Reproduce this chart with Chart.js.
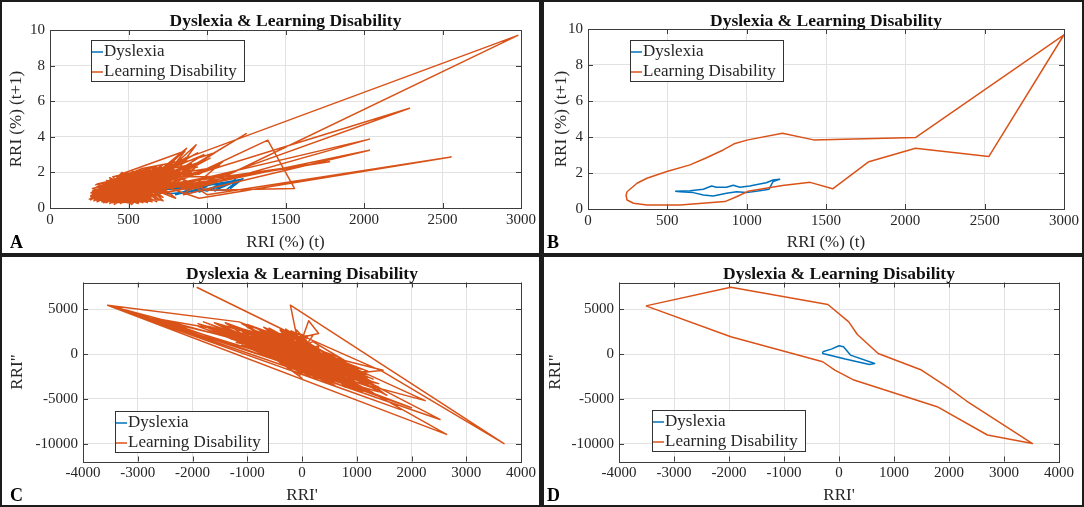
<!DOCTYPE html>
<html><head><meta charset="utf-8">
<script src="https://cdn.jsdelivr.net/npm/chart.js@4.4.1/dist/chart.umd.min.js"></script>
<style>
html,body{margin:0;padding:0;background:#1c1c1c;width:1084px;height:507px;overflow:hidden}
.panel{position:absolute;background:#fff}
canvas{display:block}
</style></head><body>
<div class="panel" style="left:2px;top:2px;width:537px;height:251px"><canvas id="cA" width="537" height="251"></canvas></div>
<div class="panel" style="left:544px;top:2px;width:538px;height:251px"><canvas id="cB" width="538" height="251"></canvas></div>
<div class="panel" style="left:2px;top:257px;width:537px;height:248px"><canvas id="cC" width="537" height="248"></canvas></div>
<div class="panel" style="left:544px;top:257px;width:538px;height:248px"><canvas id="cD" width="538" height="248"></canvas></div>
<script>
// ---------- tick labels ----------
const xTicksAB = [0, 500, 1000, 1500, 2000, 2500, 3000];
const yTicksAB = [0, 2, 4, 6, 8, 10];
const xTicksCD = [-4000, -3000, -2000, -1000, 0, 1000, 2000, 3000, 4000];
const yTicksCD = [-10000, -5000, 0, 5000];
const seriesNames = ['Dyslexia', 'Learning Disability'];
const chartTitle = 'Dyslexia & Learning Disability';

// ---------- Panel A: RRI(t) vs RRI(t+1), raw ----------
const dysA = [[580,1.0],[700,1.05],[640,0.95],[820,1.3],[760,1.1],[900,1.2],[850,0.8],[1000,1.25],[950,0.9],[1100,1.35],
[1050,0.95],[1180,1.6],[1150,1.1],[1230,1.65],[1100,1.3],[900,0.85],[1000,1.2],[800,0.75],[950,1.25],[700,1.0],
[880,1.15],[1160,1.5],[1050,1.3],[1200,1.55],[1120,1.0],[980,1.0],[760,0.8],[620,1.0],[840,1.25],[1000,0.95],
[1140,1.4],[1080,1.1],[1220,1.62],[900,1.1],[600,1.0]];
const ldA = [[420,0.9],[300,0.7],[520,1.1],[340,0.5],[610,1.5],[420,1.3],[280,0.6],[560,1.3],[390,0.4],[700,1.6],
[450,1.2],[330,0.8],[640,1.4],[480,0.6],[260,0.55],[590,1.7],[370,1.0],[520,0.35],[730,1.8],[410,0.75],
[300,0.9],[560,1.05],[690,2.0],[350,0.6],[480,1.45],[620,0.9],[270,0.7],[540,1.6],[400,0.55],[760,1.5],
[931,3.55],[640,1.2],
[500,0.8],[320,1.05],[600,1.25],[440,0.3],[650,1.9],[380,1.2],[290,0.45],[580,0.7],[800,2.1],[460,1.0],
[350,0.85],[670,1.3],[510,1.8],[300,0.55],[620,1.55],[430,0.65],[720,1.2],[360,1.3],[550,0.5],[780,1.9],
[760,2.45],[2980,9.7],[990,1.25],
[410,1.1],[270,0.8],[500,1.25],[650,0.8],[390,1.5],[300,0.35],[580,1.45],[460,0.45],[840,2.3],[520,1.0],
[340,0.65],[620,1.75],[470,0.9],[280,0.9],[710,1.4],[400,0.85],[560,0.25],[660,1.6],[330,1.1],[500,0.55],
[900,1.8],[1387,3.81],[1557,1.1],[1000,1.0],
[750,2.0],[420,1.35],[600,1.0],[250,0.5],[540,1.2],[690,1.7],[380,0.5],[470,1.6],[630,0.6],[310,0.75],
[570,1.9],[880,2.4],[450,0.7],[350,1.35],[600,0.45],[740,1.65],[500,1.4],[290,0.65],[660,1.1],[430,1.5],
[820,1.6],[2290,5.6],[900,1.2],
[820,1.8],[540,0.85],[360,0.75],[700,2.2],[480,1.05],[260,0.7],[590,1.35],[420,0.4],[770,1.35],[510,1.55],
[320,0.5],[680,1.0],[450,1.9],[860,3.2],[700,1.4],[380,0.95],[530,0.3],[790,2.6],[560,1.5],[310,1.2],
[700,1.1],[2035,3.87],[880,1.0],
[600,2.1],[440,0.85],[280,0.5],[650,1.45],[500,0.65],[720,1.85],[350,1.0],[460,1.75],[620,0.5],[270,0.95],
[1050,3.1],[800,1.7],[480,1.3],[330,0.35],[570,1.15],[830,2.0],[400,1.6],[540,0.45],[700,1.55],[290,0.8],
[800,1.8],[1250,4.18],[880,2.2],
[610,1.05],[380,0.7],[520,1.95],[740,1.0],[430,0.55],[660,2.05],[300,1.0],[580,0.85],[900,2.0],[470,1.2],
[760,0.9],[2035,3.25],[850,0.75],
[1100,2.6],[950,1.9],[640,1.6],[360,0.55],[480,1.5],[1000,2.2],[700,1.2],[1150,2.0],[550,0.7],[800,1.3],
[850,1.3],[1780,2.6],[900,1.5],
[420,1.0],[620,1.3],[260,0.65],[500,1.7],[1200,1.8],[900,1.1],[650,2.3],[350,1.2],[550,1.4],[980,3.0],
[720,1.6],[400,1.25],[600,0.6],[1050,1.5],[750,1.1],[450,1.4],[320,0.6],[680,1.75],[500,0.95],[870,1.5],
[1000,0.75],[2555,2.87],[950,0.55],
[600,1.6],[380,0.8],[560,1.25],[760,1.75],[440,1.1],[300,0.6],[640,1.0],[500,1.5],[400,0.7],[580,1.1],
[330,1.4],[620,0.3],[460,2.0],[280,0.4],[750,2.3],[520,0.2],[380,1.7],[680,0.35],[560,2.05],[300,1.2],
[850,2.6],[420,0.25],[590,1.9],[350,0.3],[710,2.25],[480,0.4],[260,0.85],[640,2.15],[400,1.75],[560,0.3],
[770,2.4],[330,0.45],[500,1.85],[690,0.5],[440,1.65],[290,1.3],[610,2.0],[470,0.3],[820,2.55],[380,0.25],
[700,1.9],[870,3.35],[640,1.7],[940,3.1],[720,2.0],
[540,1.75],[720,0.6],[360,1.55],[600,0.35],[270,1.1],[660,1.95],[430,0.35],[740,2.35],[510,0.25],[320,1.25],
[580,2.2],[870,2.7],[400,0.3],[640,0.4],[480,1.9],[300,0.4],[700,2.1],[450,0.25],[560,1.8],[350,1.45],
[900,2.45],[620,0.45],[390,1.65],[260,0.45],[520,2.0],[760,0.7],[420,1.8],[680,2.3],[340,0.3],[600,1.95],
[800,0.55],[470,1.7],[300,1.35],[650,0.35],[550,2.1],[380,0.35],[720,2.45],[490,0.3],[280,1.0],[610,1.8],
[940,2.3],[450,1.55],[330,0.4],[700,0.45],[520,1.65],[410,0.2],[790,2.2],[560,0.4],[370,1.4],[640,2.25],
[270,0.6],[500,0.3],[760,1.95],[430,1.75],[590,0.3],[310,1.15],[850,2.0],[480,0.35],[660,2.2],[350,0.4],
[580,1.6],[720,0.4],[400,1.45],[530,2.05],[290,0.95],[680,0.6],[460,1.85],[620,2.0],[360,0.3],[810,2.35],
[880,2.9],[600,1.5],[960,2.6],[700,1.3],[1020,2.8],[650,1.1],[900,2.5],[560,1.0],[1080,2.4],[740,1.5],
[990,2.1],[620,1.2],[800,2.75],[520,0.9],[920,2.2],[680,1.35]];

// ---------- Panel B: outlines ----------
const dysB = [[549,0.98],[643,1.02],[727,1.10],[779,1.28],[810,1.21],[873,1.21],[915,1.32],[957,1.21],[1019,1.28],[1082,1.39],
[1124,1.46],[1166,1.61],[1208,1.65],[1166,1.52],[1141,1.10],[1082,1.02],[999,0.91],[936,0.96],[873,0.87],[789,0.72],
[727,0.78],[664,0.91],[580,0.96],[549,0.98]];
const ldB = [[246,0.96],[309,1.43],[371,1.71],[497,2.08],[643,2.45],[747,2.85],[852,3.28],[921,3.62],[1008,3.84],[1226,4.21],
[1422,3.84],[2064,3.97],[3000,9.68],[2526,2.91],[2064,3.38],[1770,2.63],[1542,1.12],[1400,1.48],[1226,1.3],[1008,0.98],
[936,0.68],[863,0.41],[580,0.22],[371,0.22],[287,0.32],[246,0.5],[240,0.75],[246,0.96]];

// ---------- Panel C: RRI' vs RRI'', raw ----------
const dysC = [[-300,200],[0,900],[200,-100],[650,-1050],[100,-500],[-300,100],[150,300],[400,-700],[-100,400],[300,-400],[-200,-100],[500,-900]];
const ldC = [[-500,1200],[300,-900],[-900,2600],[200,800],[-200,-500],[600,-1800],[-700,1500],[100,1900],[-300,-1200],[800,-1500],
[-1100,2200],[400,-300],[0,-1500],[-600,2300],[500,-2400],[-100,1000],[900,-2600],[-400,300],[200,-1900],[-800,1000],
[-3550,5450],[-1150,3600],
[700,-700],[-300,2400],[1000,-3200],[-1200,3000],[300,500],[-50,-1000],[600,-2900],[-900,1900],[150,-400],[-500,2000],
[-200,2300],[-1915,7440],[-100,2000],
[1100,-2200],[-200,1600],[400,-2000],[-1400,2900],[700,-2200],[-100,-200],[-700,800],[500,-800],[-300,1800],[900,-3400],
[-3550,5450],[2640,-8970],[900,-3000],
[0,600],[-1000,1400],[300,-2500],[-600,2900],[1200,-3000],[-400,-200],[200,1400],[800,-800],[-1500,3300],[100,-1100],
[-120,2700],[-212,5470],[3690,-10000],[1460,-1900],
[-200,2600],[600,-1300],[-800,600],[1300,-3800],[-100,400],[400,-1500],[-1100,3400],[700,-2700],[-300,800],[1000,-1500],
[-3000,4350],[2520,-7300],[1100,-2800],
[-600,1700],[200,-100],[-1300,2500],[500,-2900],[-200,-800],[800,-2000],[-900,2400],[0,2200],[300,-1300],[-500,700],
[1000,-1700],[2250,-5200],[600,-2500],
[1200,-1900],[-700,2600],[100,-1800],[-1600,3500],[600,-400],[-300,-400],[900,-2900],[-1000,2000],[400,300],[-150,1300],
[-2600,3900],[2000,-6000],[700,-3000],
[1400,-4200],[-400,2700],[200,-2300],[-800,1800],[700,-1600],[-1200,1800],[0,-400],[1100,-3800],[-500,-300],[300,900],
[300,0],[1480,-1800],[900,-2200],
[-1800,3600],[500,-1900],[-100,2700],[800,-3300],[-700,200],[250,-700],[-1000,3000],[1300,-2800],[-250,1000],[600,-2300],
[-3550,5450],[1800,-6200],[-200,-1800],
[122,3720],[304,2310],[-300,1500],[500,-1200],[-900,1300],[0,-2700],[-1100,2600],[800,-2500],[-400,1100],[1200,-3500],
[-700,2100],[300,-1700],[-200,200],[1000,-2400],[-1300,3200],[100,-600],[-600,1200],[700,-1100],[-1900,3400],[400,-2600],
[-100,-1200],[-800,2800],[900,-1900],[-400,1500],[600,-3200],[-1000,2500],[200,600],[1100,-3000],[-500,2500],[0,-900],
[-1500,2400],[1200,-2600],[-400,2900],[800,-3700],[-900,600],[500,-400],[-1700,3100],[1400,-3300],[-200,-1500],[200,2100],
[-1200,1300],[900,-1200],[-600,200],[1100,-4200],[-300,2100],[0,-2200],[-1400,3500],[600,-900],[100,1100],[-800,2200],
[1300,-4300],[-500,500],[300,-2900],[-1000,3300],[700,-400],[-100,-1800],[-1600,2800],[1000,-3600],[-300,-600],[400,-2300],
[-700,3000],[1200,-2300],[-1100,1000],[500,-3200],[-400,1900],[900,-2600],[-1300,2200],[200,-1300],[-800,1400],[1400,-3700],
[-200,900],[700,-1900],[-1500,2600],[0,1600],[800,-2800],[-600,600],[1100,-1700],[-900,3100],[300,-600],[-50,-2400],
[-1200,2400],[600,-3500],[-400,-800],[1000,-2000],[-700,1100],[200,-2700],[-1000,1800],[1300,-3200],[-300,2800],[500,-1600],
[-1400,2000],[800,-1200],[-100,1900],[900,-3900],[-800,2500],[400,-1000],[-1100,2800],[100,-2100],[-500,1600],[1200,-4000],
[-1900,3100],[700,-2400],[-200,-1100],[1000,-2900],[-600,2600],[300,200],[-1300,1700],[600,-2000],[-400,600],[1100,-2500],
[1500,-4400],[-200,1000],[1450,-3900],[0,300],[1550,-4600],[-500,1800]];

// ---------- Panel D: outlines ----------
const dysD = [[-296,260],[-139,558],[0,929],[82,818],[208,-112],[649,-1041],[555,-1152],[113,-558],[-296,74],[-296,260]];
const ldD = [[-3511,5390],[-1967,7472],[-202,5539],[177,3606],[334,2193],[712,74],[1500,-1784],[2005,-3829],[2320,-5242],[3518,-10000],
[2698,-9040],[1784,-5874],[271,-2900],[-76,-1784],[-296,-855],[-1967,1933],[-3511,5390]];

const BLUE = '#0072BD', ORANGE = '#D95319', GRID = '#e2e2e2', INK = '#262626';
const FONT = '"Liberation Serif", "Times New Roman", serif';
Chart.defaults.font.family = FONT;

const decor = {
  id: 'decor',
  beforeDatasetsDraw(chart) {
    const ctx = chart.ctx, a = chart.chartArea;
    ctx.save();
    ctx.strokeStyle = '#3c3c3c'; ctx.lineWidth = 1;
    const xs = chart.scales.x, ys = chart.scales.y;
    ctx.beginPath();
    xs.ticks.forEach(t => { const p = Math.round(xs.getPixelForValue(t.value)) + 0.5;
      ctx.moveTo(p, a.bottom); ctx.lineTo(p, a.bottom - 5); ctx.moveTo(p, a.top); ctx.lineTo(p, a.top + 5); });
    ys.ticks.forEach(t => { const p = Math.round(ys.getPixelForValue(t.value)) + 0.5;
      ctx.moveTo(a.left, p); ctx.lineTo(a.left + 5, p); ctx.moveTo(a.right, p); ctx.lineTo(a.right - 5, p); });
    ctx.stroke();
    ctx.strokeRect(Math.round(a.left) + 0.5, Math.round(a.top) + 0.5, Math.round(a.right - a.left), Math.round(a.bottom - a.top));
    ctx.restore();
  },
  afterDraw(chart, args, o) {
    const ctx = chart.ctx, a = chart.chartArea, cx = (a.left + a.right) / 2;
    ctx.save();
    ctx.fillStyle = '#111';
    ctx.textAlign = 'center'; ctx.textBaseline = 'alphabetic';
    ctx.font = 'bold 17.5px ' + FONT;
    ctx.fillText(chartTitle, cx, o.titleY);
    ctx.font = '17px ' + FONT;
    ctx.fillStyle = INK;
    ctx.fillText(o.xTitle, cx, o.xTitleY);
    ctx.save();
    ctx.translate(o.yTitleX, (a.top + a.bottom) / 2);
    ctx.rotate(-Math.PI / 2);
    ctx.textBaseline = 'middle';
    ctx.fillText(o.yTitle, 0, 0);
    ctx.restore();
    // panel letter
    ctx.textAlign = 'left'; ctx.fillStyle = '#000';
    ctx.font = 'bold 18px ' + FONT;
    ctx.fillText(o.letter, o.letterX, o.letterY);
    // legend
    const L = o.legend, w = 153, h = 41;
    ctx.fillStyle = '#fff';
    ctx.fillRect(L.x, L.y, w, h);
    ctx.strokeStyle = '#333'; ctx.lineWidth = 1;
    ctx.strokeRect(L.x + 0.5, L.y + 0.5, w, h);
    const cols = [BLUE, ORANGE];
    ctx.font = '17px ' + FONT; ctx.textBaseline = 'middle';
    seriesNames.forEach((n, i) => {
      const yy = L.y + 12 + i * 20;
      ctx.strokeStyle = cols[i]; ctx.lineWidth = 1.5;
      ctx.beginPath(); ctx.moveTo(L.x + 1, yy); ctx.lineTo(L.x + 12, yy); ctx.stroke();
      ctx.fillStyle = INK; ctx.fillText(n, L.x + 13, yy);
    });
    ctx.restore();
  }
};

const toXY = arr => arr.map(p => ({x: p[0], y: p[1]}));

function makeChart(id, c) {
  const tickFont = {family: FONT, size: 15};
  return new Chart(document.getElementById(id), {
    type: 'scatter',
    data: {datasets: [
      {label: seriesNames[0], data: toXY(c.dys), showLine: true, borderColor: BLUE, backgroundColor: BLUE,
       borderWidth: 1.5, pointRadius: 0, borderJoinStyle: 'round', order: 1},
      {label: seriesNames[1], data: toXY(c.ld), showLine: true, borderColor: ORANGE, backgroundColor: ORANGE,
       borderWidth: 1.5, pointRadius: 0, borderJoinStyle: 'round', order: 0}
    ]},
    options: {
      responsive: false, animation: false, events: [],
      layout: {padding: {left: 0, top: c.top, right: c.right, bottom: 0}, autoPadding: false},
      plugins: {legend: {display: false}, tooltip: {enabled: false}, title: {display: false}, decor: c.decor},
      scales: {
        x: {type: 'linear', min: c.xmin, max: c.xmax,
            afterFit(s) { s.height = c.xh; },
            afterBuildTicks(s) { s.ticks = c.xticks.map(v => ({value: v})); },
            grid: {color: GRID, drawTicks: false, tickLength: 0},
            border: {display: false},
            ticks: {padding: 3, font: tickFont, color: INK, maxRotation: 0, autoSkip: false, callback: v => String(v)}},
        y: {type: 'linear', min: c.ymin, max: c.ymax,
            afterFit(s) { s.width = c.yw; },
            afterBuildTicks(s) { s.ticks = c.yticks.map(v => ({value: v})); },
            grid: {color: GRID, drawTicks: false, tickLength: 0},
            border: {display: false},
            ticks: {padding: 5, font: tickFont, color: INK, autoSkip: false, callback: v => String(v)}}
      }
    },
    plugins: [decor]
  });
}

makeChart('cA', {dys: dysA, ld: ldA, xmin: 0, xmax: 3000, ymin: 0, ymax: 10, xticks: xTicksAB, yticks: yTicksAB,
  top: 28, right: 18, xh: 45, yw: 48,
  decor: {titleY: 24, xTitle: 'RRI (%) (t)', xTitleY: 245, yTitle: 'RRI (%) (t+1)', yTitleX: 15, letter: 'A', letterX: 8, letterY: 246,
          legend: {x: 89, y: 38}}});
makeChart('cB', {dys: dysB, ld: ldB, xmin: 0, xmax: 3000, ymin: 0, ymax: 10, xticks: xTicksAB, yticks: yTicksAB,
  top: 27, right: 16, xh: 44, yw: 44,
  decor: {titleY: 24, xTitle: 'RRI (%) (t)', xTitleY: 245, yTitle: 'RRI (%) (t+1)', yTitleX: 18, letter: 'B', letterX: 3, letterY: 246,
          legend: {x: 86, y: 38}}});
makeChart('cC', {dys: dysC, ld: ldC, xmin: -4000, xmax: 4000, ymin: -12000, ymax: 8000, xticks: xTicksCD, yticks: yTicksCD,
  top: 25.5, right: 16, xh: 43.5, yw: 81,
  decor: {titleY: 22, xTitle: "RRI'", xTitleY: 243, yTitle: 'RRI"', yTitleX: 16, letter: 'C', letterX: 8, letterY: 244,
          legend: {x: 113, y: 154}}});
makeChart('cD', {dys: dysD, ld: ldD, xmin: -4000, xmax: 4000, ymin: -12000, ymax: 8000, xticks: xTicksCD, yticks: yTicksCD,
  top: 25.5, right: 23, xh: 43.5, yw: 75,
  decor: {titleY: 22, xTitle: "RRI'", xTitleY: 243, yTitle: 'RRI"', yTitleX: 12, letter: 'D', letterX: 3, letterY: 244,
          legend: {x: 108, y: 153}}});
</script>
</body></html>
